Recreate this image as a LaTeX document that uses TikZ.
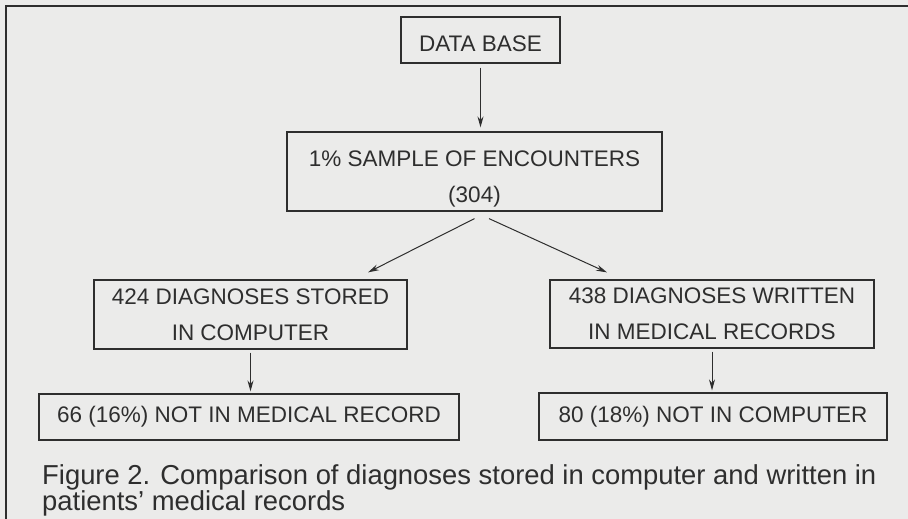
\documentclass[tikz,border=0pt]{standalone}
\usepackage{fontspec}
\setmainfont{Liberation Sans}
\newfontfamily\boxfont[WordSpace=1.7]{Liberation Sans}
\newfontfamily\capfont{Liberation Sans}
\usetikzlibrary{arrows.meta,calc}
\definecolor{paper}{HTML}{EBEBEA}
\definecolor{ink}{HTML}{2E2E2E}
\tikzset{
  box/.style={draw=ink, line width=1.2pt, inner sep=0pt, text=ink,
    font=\boxfont\fontsize{22.5}{36}\selectfont, align=center},
  arr/.style={draw=ink, line width=1pt, -{Stealth[length=11pt,width=6pt]}},
  frame/.style={draw=ink, line width=2.4pt}
}
\begin{document}
\begin{tikzpicture}[x=1pt,y=-1pt]
\fill[paper] (0,0) rectangle (908,519);
\useasboundingbox (0,0) rectangle (908,519);
\draw[frame] (6,530) -- (6,6) -- (920,6);
\node[box, minimum width=159pt, minimum height=46pt] (db) at (480.5,40) {\rule{0pt}{24pt}DATA BASE};
\node[box, minimum width=375pt, minimum height=79pt] (samp) at (474.5,171.5) {\rule{0pt}{30pt}1\% SAMPLE OF ENCOUNTERS\\(304)};
\node[box, minimum width=313pt, minimum height=69pt] (left) at (250.5,314.5) {424 DIAGNOSES STORED\\IN COMPUTER};
\node[box, minimum width=324pt, minimum height=68pt] (right) at (712,314) {438 DIAGNOSES WRITTEN\\IN MEDICAL RECORDS};
\node[box, minimum width=420pt, minimum height=46pt] (leftb) at (249,417) {66 (16\%) NOT IN MEDICAL RECORD};
\node[box, minimum width=348pt, minimum height=47pt] (rightb) at (713,416.5) {80 (18\%) NOT IN COMPUTER};
\node[anchor=north west, inner sep=0pt, align=left, text=ink,
  font=\capfont\fontsize{27.4}{21}\selectfont] (cap) at (42,464)
  {Figure 2. Comparison of diagnoses stored in computer and written in\\patients’ medical records};
\coordinate (s1) at ($(samp.south)+(0,7)$);
\coordinate (s2) at ($(samp.south)+(14.5,7)$);
\coordinate (t1) at ($(left.north)+(117.5,-7)$);
\coordinate (t2) at ($(right.north)+(-105,-7)$);
\draw[arr, shorten <=4pt, shorten >=4pt] (db.south) -- (db.south |- samp.north);
\draw[arr] (s1) -- (t1);
\draw[arr] (s2) -- (t2);
\draw[arr, shorten <=3pt, shorten >=2pt] (left.south) -- (left.south |- leftb.north);
\draw[arr, shorten <=3pt, shorten >=2pt] (right.south) -- (right.south |- rightb.north);
\end{tikzpicture}
\end{document}
